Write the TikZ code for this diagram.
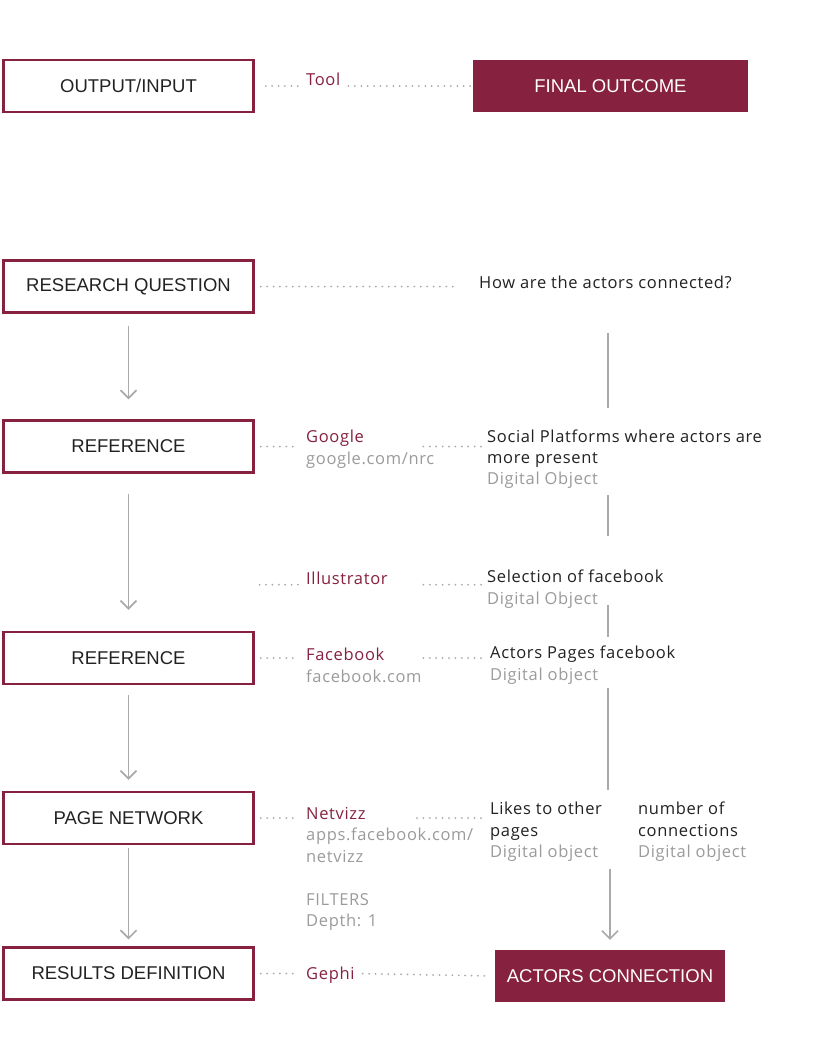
\documentclass[tikz,border=0pt]{standalone}
\usepackage{fontspec}
\setmainfont{Open Sans}[LetterSpace = 4]
\newfontfamily\boxfont{Liberation Sans}
\usetikzlibrary{arrows.meta}
\definecolor{wine}{HTML}{862240}
\definecolor{ink}{HTML}{222222}
\definecolor{mute}{HTML}{9B9B9B}
\definecolor{rule}{HTML}{AAAAAA}

\begin{document}
\begin{tikzpicture}[x = 1pt, y = -1pt,
    every node/.style = {inner sep = 0pt, text = ink, font = \fontsize{16.5}{21.5}\selectfont},
    box/.style = {draw = wine, line width = 2.5pt, minimum width = 250pt, minimum height = 52pt,
        font = \boxfont\fontsize{18.5}{20}\selectfont},
    result/.style = {fill = wine, text = white, minimum height = 52pt,
        font = \boxfont\fontsize{18.5}{20}\selectfont},
    tool/.style = {anchor = north west, align = left, text = wine},
    obj/.style = {anchor = north west, align = left},
    dots/.style = {draw = rule, line width = 2pt, line cap = round, dash pattern = on 0pt off 6.4pt},
    flow/.style = {draw = rule, line width = 1.6pt},
    pointer/.style = {flow, -{Straight Barb[length = 8pt, width = 16pt]}}]
    \fill[white] (0,0) rectangle (826,1050);
    \useasboundingbox (0,0) rectangle (826,1050);

    % legend
    \node[box] (io) at (128.5,86) {OUTPUT/INPUT};
    \node[tool] (tool) at (306,73) {Tool};
    \node[result, minimum width = 275pt] (final) at (610.5,86) {FINAL OUTCOME};
    \draw[dots, shorten <= 11pt, shorten >= 6pt] (io.east) -- (tool.west |- io.east);
    \draw[dots, shorten <= 8pt] (tool.east |- io.east) -- (final.west);

    % steps
    \node[box] (rq) at (128.5,286.5) {RESEARCH QUESTION};
    \node[obj] (question) at (479,276) {How are the actors connected?};

    \node[box] (ref1) at (128.5,446.5) {REFERENCE};
    \node[tool] (google) at (306,430) {Google\\{\color{mute}google.com/nrc}};
    \node[obj] (social) at (487,430) {Social Platforms where actors are\\[-1pt]more present\\{\color{mute}Digital Object}};

    \node[tool] (illus) at (306,572) {Illustrator};
    \node[obj] (select) at (487,570) {Selection of facebook\\{\color{mute}Digital Object}};

    \node[box] (ref2) at (128.5,658) {REFERENCE};
    \node[tool] (fb) at (306,648) {Facebook\\{\color{mute}facebook.com}};
    \node[obj] (pages) at (490,646) {Actors Pages facebook\\{\color{mute}Digital object}};

    \node[box] (net) at (128.5,818) {PAGE NETWORK};
    \node[tool] (netvizz) at (306,807) {Netvizz\\{\color{mute}apps.facebook.com/}\\{\color{mute}netvizz}};
    \node[obj] (likes) at (490,802) {Likes to other\\pages\\{\color{mute}Digital object}};
    \node[obj] (count) at (638,802) {number of\\connections\\{\color{mute}Digital object}};
    \node[obj, text = mute] (filters) at (306,893) {FILTERS\\Depth: 1};

    \node[box] (res) at (128.5,973.5) {RESULTS DEFINITION};
    \node[tool] (gephi) at (306,967) {Gephi};
    \node[result, minimum width = 230pt] (actors) at (610,976) {ACTORS CONNECTION};

    % leaders
    \draw[dots, shorten <= 6pt, shorten >= 21pt] (rq.east) -- (question.west |- rq.east);
    \draw[dots, shorten <= 6pt, shorten >= 8pt] (ref1.east) -- (google.west |- ref1.east);
    \draw[dots] ([xshift = -6pt]social.west |- ref1.east) -- ++(-59,0);
    \draw[dots] ([xshift = -8pt]illus.base west) -- ++(-40,0);
    \draw[dots] ([xshift = -6pt]select.west |- illus.base west) -- ++(-59,0);
    \draw[dots, shorten <= 6pt, shorten >= 8pt] (ref2.east) -- (fb.west |- ref2.east);
    \draw[dots] ([xshift = -9pt]pages.west |- ref2.east) -- ++(-59,0);
    \draw[dots, shorten <= 6pt, shorten >= 10pt] (net.east) -- (netvizz.west |- net.east);
    \draw[dots] ([xshift = -9pt]likes.west |- net.east) -- ++(-66,0);
    \draw[dots, shorten <= 6pt, shorten >= 8pt] (res.east) -- (gephi.west |- res.east);
    \draw[dots, shorten <= 8pt, shorten >= 5pt] (gephi.east |- res.east) -- (actors.west);

    % flow
    \draw[pointer, shorten <= 12pt, shorten >= 20pt] (rq) -- (ref1);
    \draw[pointer, shorten <= 20pt, shorten >= 21pt] (ref1) -- (ref2);
    \draw[pointer, shorten <= 10pt, shorten >= 11pt] (ref2) -- (net);
    \draw[pointer, shorten <= 3pt, shorten >= 7pt] (net) -- (res);
    \draw[flow] (608,333) -- (608,408);
    \draw[flow] (608,495) -- (608,536);
    \draw[flow] (608,605) -- (608,637);
    \draw[flow] (608,688) -- (608,790);
    \draw[pointer, shorten >= 10pt] (actors.north |- 0,869) -- (actors);
\end{tikzpicture}
\end{document}
